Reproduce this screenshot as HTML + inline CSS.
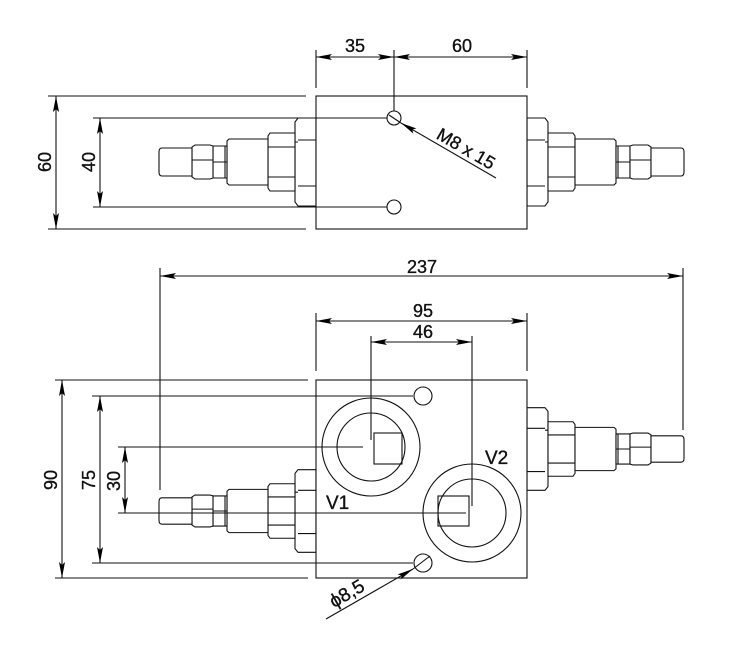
<!DOCTYPE html>
<html><head><meta charset="utf-8"><style>
html,body{margin:0;padding:0;background:#fff;}
svg{display:block;}
text{font-family:"Liberation Sans","DejaVu Sans",sans-serif;font-size:18px;fill:#111;stroke:#111;stroke-width:0.35;}
</style></head><body>
<svg width="729" height="659" viewBox="0 0 729 659" xmlns="http://www.w3.org/2000/svg">
<defs>
<marker id="a" viewBox="0 0 16 6" refX="16" refY="3" markerWidth="16" markerHeight="6" markerUnits="userSpaceOnUse" orient="auto-start-reverse">
<path d="M0,0 L16,3 L0,6 L3,3 z" fill="#000"/></marker>
<g id="fit" fill="#fff" stroke="#111" stroke-width="1.1">
<path vector-effect="non-scaling-stroke" d="M0,-44 L-18,-44 L-21,-40 L-21,40 L-18,44 L0,44 Z"/>
<path vector-effect="non-scaling-stroke" d="M-18,-22 L0,-22 M-18,24 L0,24 M-21,-20 L-18,-20"/>
<path vector-effect="non-scaling-stroke" d="M-21,-29 L-46,-29 L-48,-26 L-48,26 L-46,29 L-21,29 Z"/>
<path vector-effect="non-scaling-stroke" d="M-48,-15 L-21,-15 M-48,15 L-21,15"/>
<path vector-effect="non-scaling-stroke" d="M-48,-23 L-87,-23 L-89,-21 L-89,21 L-87,23 L-48,23 Z"/>
<path vector-effect="non-scaling-stroke" d="M-89,-16 L-103,-16 L-103,16 L-89,16 Z M-91,-16 L-91,16 M-103,0 L-89,0"/>
<path vector-effect="non-scaling-stroke" d="M-103,-16 L-106,-17 L-121,-17 L-124,-15 L-124,15 L-121,17 L-106,17 L-103,16 Z M-124,-2 L-103,-2"/>
<path vector-effect="non-scaling-stroke" d="M-124,-14 L-154,-14 Q-157,-14 -157,-10 L-157,10 Q-157,14 -154,14 L-124,14 Z"/>
</g>
</defs>
<g stroke="#111" stroke-width="1.1" fill="none">
<use href="#fit" transform="translate(316,162)"/>
<use href="#fit" transform="translate(527,162) scale(-1,1)"/>
<rect x="316" y="96" width="211" height="133" fill="#fff"/>
<circle cx="394" cy="118" r="7"/>
<circle cx="394" cy="207" r="7"/>
<line x1="48" y1="96" x2="306" y2="96"/>
<line x1="48" y1="229" x2="306" y2="229"/>
<line x1="93" y1="118" x2="387" y2="118"/>
<line x1="93" y1="207" x2="387" y2="207"/>
<line x1="56" y1="96" x2="56" y2="229" marker-start="url(#a)" marker-end="url(#a)"/>
<line x1="100" y1="118" x2="100" y2="207" marker-start="url(#a)" marker-end="url(#a)"/>
<line x1="316" y1="50" x2="316" y2="88"/>
<line x1="394" y1="50" x2="394" y2="111"/>
<line x1="527" y1="50" x2="527" y2="88"/>
<line x1="316" y1="57" x2="394" y2="57" marker-start="url(#a)" marker-end="url(#a)"/>
<line x1="394" y1="57" x2="527" y2="57" marker-start="url(#a)" marker-end="url(#a)"/>
<line x1="496" y1="178" x2="401" y2="123" marker-end="url(#a)"/>
<line x1="389" y1="115" x2="401" y2="123"/>
<use href="#fit" transform="translate(316,511) scale(1,0.94)"/>
<use href="#fit" transform="translate(527,449) scale(-1,0.94)"/>
<rect x="316" y="380" width="211" height="198" fill="#fff"/>
<circle cx="423" cy="396" r="9"/>
<circle cx="423" cy="563" r="9"/>
<circle cx="371" cy="447" r="49"/>
<circle cx="371" cy="447" r="34"/>
<rect x="374" y="433" width="28" height="31"/>
<circle cx="472" cy="513" r="49"/>
<circle cx="472" cy="513" r="34"/>
<rect x="438" y="496" width="31" height="30"/>
<line x1="55" y1="380" x2="308" y2="380"/>
<line x1="55" y1="578" x2="308" y2="578"/>
<line x1="92" y1="396" x2="413" y2="396"/>
<line x1="92" y1="563" x2="413" y2="563"/>
<line x1="118" y1="447" x2="363" y2="447"/>
<line x1="118" y1="513" x2="466" y2="513"/>
<line x1="62" y1="380" x2="62" y2="578" marker-start="url(#a)" marker-end="url(#a)"/>
<line x1="100" y1="396" x2="100" y2="563" marker-start="url(#a)" marker-end="url(#a)"/>
<line x1="125" y1="447" x2="125" y2="513" marker-start="url(#a)" marker-end="url(#a)"/>
<line x1="160" y1="268" x2="160" y2="490"/>
<line x1="683" y1="268" x2="683" y2="430"/>
<line x1="160" y1="276" x2="683" y2="276" marker-start="url(#a)" marker-end="url(#a)"/>
<line x1="316" y1="313" x2="316" y2="371"/>
<line x1="527" y1="313" x2="527" y2="371"/>
<line x1="316" y1="321" x2="527" y2="321" marker-start="url(#a)" marker-end="url(#a)"/>
<line x1="371" y1="336" x2="371" y2="440"/>
<line x1="472" y1="336" x2="472" y2="506"/>
<line x1="371" y1="342" x2="472" y2="342" marker-start="url(#a)" marker-end="url(#a)"/>
<line x1="326" y1="619" x2="413" y2="569" marker-end="url(#a)"/>
<line x1="413" y1="569" x2="430" y2="556"/>
</g>
<g>
<text x="355" y="52" text-anchor="middle">35</text>
<text x="462" y="52" text-anchor="middle">60</text>
<text transform="translate(51,162) rotate(-90)" text-anchor="middle">60</text>
<text transform="translate(95,162) rotate(-90)" text-anchor="middle">40</text>
<text transform="translate(463,154) rotate(30)" text-anchor="middle">M8 x 15</text>
<text x="422" y="273" text-anchor="middle">237</text>
<text x="423" y="317" text-anchor="middle">95</text>
<text x="423" y="338" text-anchor="middle">46</text>
<text transform="translate(57,480) rotate(-90)" text-anchor="middle">90</text>
<text transform="translate(95,480) rotate(-90)" text-anchor="middle">75</text>
<text transform="translate(120,481) rotate(-90)" text-anchor="middle">30</text>
<text x="326" y="509" style="font-size:19px">V1</text>
<text x="485" y="464" style="font-size:19px">V2</text>
<text transform="translate(350,599) rotate(-30)" text-anchor="middle" style="font-size:19px">ϕ8,5</text>
</g>
</svg>
</body></html>
